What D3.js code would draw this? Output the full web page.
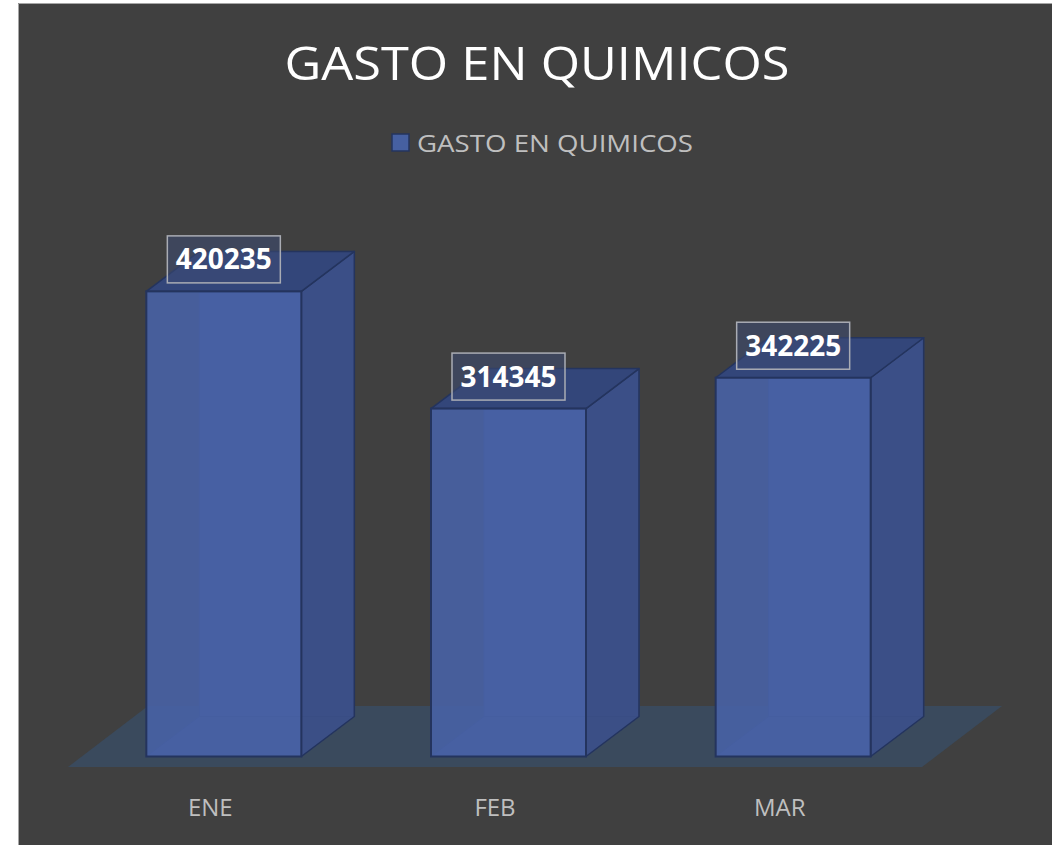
<!DOCTYPE html>
<html>
<head>
<meta charset="utf-8">
<script src="https://cdn.jsdelivr.net/npm/d3@7"></script>
<style>
  body { margin:0; background:#fff; }
  svg { display:block; }
</style>
</head>
<body>
<div id="chart"></div>
<script>
// Data
const months = ["ENE", "FEB", "MAR"];
const gasto = [420235, 314345, 342225];
const seriesName = "GASTO EN QUIMICOS";
const chartTitle = "GASTO EN QUIMICOS";

const width = 1052, height = 845;

const svg = d3.select("#chart").append("svg")
  .attr("width", width).attr("height", height);

// background panel
svg.append("rect").attr("x",18).attr("y",3).attr("width",width-18).attr("height",height-3)
  .attr("fill","#404040");
svg.append("path").attr("d","M18.5,845 V3.5 H1052").attr("fill","none").attr("stroke","#a6a6a6").attr("stroke-width",1);

// 3d geometry
const floorFront = 767, floorLeft = 68, floorRight = 922;
const floorDepth = {dx: 80, dy: -61};
const barDepth = {dx: 53, dy: -40};
const shift = {dx: (floorDepth.dx - barDepth.dx)/2, dy: (floorDepth.dy - barDepth.dy)/2};

const x = d3.scaleBand().domain(months).range([floorLeft, floorRight]).paddingInner(0).paddingOuter(0);
const barW = 155;
const y0 = floorFront + shift.dy;
const y = d3.scaleLinear().domain([0, 500000]).range([y0, y0 - 553.4]);

// floor
svg.append("path")
  .attr("d", `M${floorLeft},${floorFront} L${floorRight},${floorFront} L${floorRight+floorDepth.dx},${floorFront+floorDepth.dy} L${floorLeft+floorDepth.dx},${floorFront+floorDepth.dy} Z`)
  .attr("fill","#3a4a5d");

// bars
const bars = svg.selectAll(".bar").data(months.map((m,i)=>({m, v:gasto[i]}))).enter()
  .append("g").attr("class","bar");

bars.each(function(d){
  const g = d3.select(this);
  const x0 = x(d.m) + (x.bandwidth()-barW)/2 + shift.dx;
  const x1 = x0 + barW;
  const yt = y(d.v), yb = y(0);
  const dx = barDepth.dx, dy = barDepth.dy;
  // back faces (seen through the translucent bar)
  g.append("path")
    .attr("d", `M${x0},${yb} L${x0+dx},${yb+dy} L${x1+dx},${yb+dy} L${x1},${yb} Z`)
    .attr("fill","#3d5185").attr("stroke","#2f4272").attr("stroke-width",1);
  g.append("path")
    .attr("d", `M${x0+dx},${yb+dy} L${x0+dx},${yt+dy} L${x1+dx},${yt+dy} L${x1+dx},${yb+dy} Z`)
    .attr("fill","#41578f").attr("stroke","#2f4272").attr("stroke-width",1);
  // side face
  g.append("path")
    .attr("d", `M${x1},${yb} L${x1+dx},${yb+dy} L${x1+dx},${yt+dy} L${x1},${yt} Z`)
    .attr("fill","#3b4f86").attr("fill-opacity",0.9)
    .attr("stroke","#24345e").attr("stroke-width",1.5).attr("stroke-linejoin","round");
  // top face
  g.append("path")
    .attr("d", `M${x0},${yt} L${x1},${yt} L${x1+dx},${yt+dy} L${x0+dx},${yt+dy} Z`)
    .attr("fill","#33467a").attr("stroke","#24345e").attr("stroke-width",1.5).attr("stroke-linejoin","round");
  // front face
  g.append("rect")
    .attr("x", x0).attr("y", yt).attr("width", barW).attr("height", yb-yt)
    .attr("fill","#4862a5").attr("fill-opacity",0.9)
    .attr("stroke","#24345e").attr("stroke-width",2);

  // data label
  const cx = x0 + barW/2, cy = yt - 32;
  g.append("rect")
    .attr("x", cx-56.5).attr("y", cy-23.5).attr("width",113).attr("height",47)
    .attr("fill","rgba(60,75,115,0.55)").attr("stroke","#a9acb4").attr("stroke-width",1.5);
  g.append("text")
    .attr("x", cx).attr("y", cy).attr("dy","0.36em")
    .attr("text-anchor","middle")
    .attr("font-family","'Open Sans', sans-serif").attr("font-weight","bold")
    .attr("font-size",28).attr("fill","#fff")
    .attr("textLength",96).attr("lengthAdjust","spacingAndGlyphs")
    .text(d.v);
});

// category labels
svg.selectAll(".cat").data(months).enter().append("text")
  .attr("x", d => x(d) + x.bandwidth()/2).attr("y", 816)
  .attr("text-anchor","middle")
  .attr("font-family","'Open Sans', sans-serif").attr("font-size",24)
  .attr("fill","#bfbfbf")
  .text(d => d);

// title
svg.append("text").attr("x",537).attr("y",80).attr("text-anchor","middle")
  .attr("font-family","'Open Sans', sans-serif").attr("font-size",46)
  .attr("fill","#fff").attr("textLength",505).attr("lengthAdjust","spacingAndGlyphs")
  .text(chartTitle);

// legend
svg.append("rect").attr("x",392).attr("y",134).attr("width",17).attr("height",17)
  .attr("fill","#4660a1").attr("stroke","#24345e").attr("stroke-width",1.5);
svg.append("text").attr("x",417).attr("y",152)
  .attr("font-family","'Open Sans', sans-serif").attr("font-size",24)
  .attr("fill","#bfbfbf").attr("textLength",276).attr("lengthAdjust","spacingAndGlyphs")
  .text(seriesName);
</script>
</body>
</html>
